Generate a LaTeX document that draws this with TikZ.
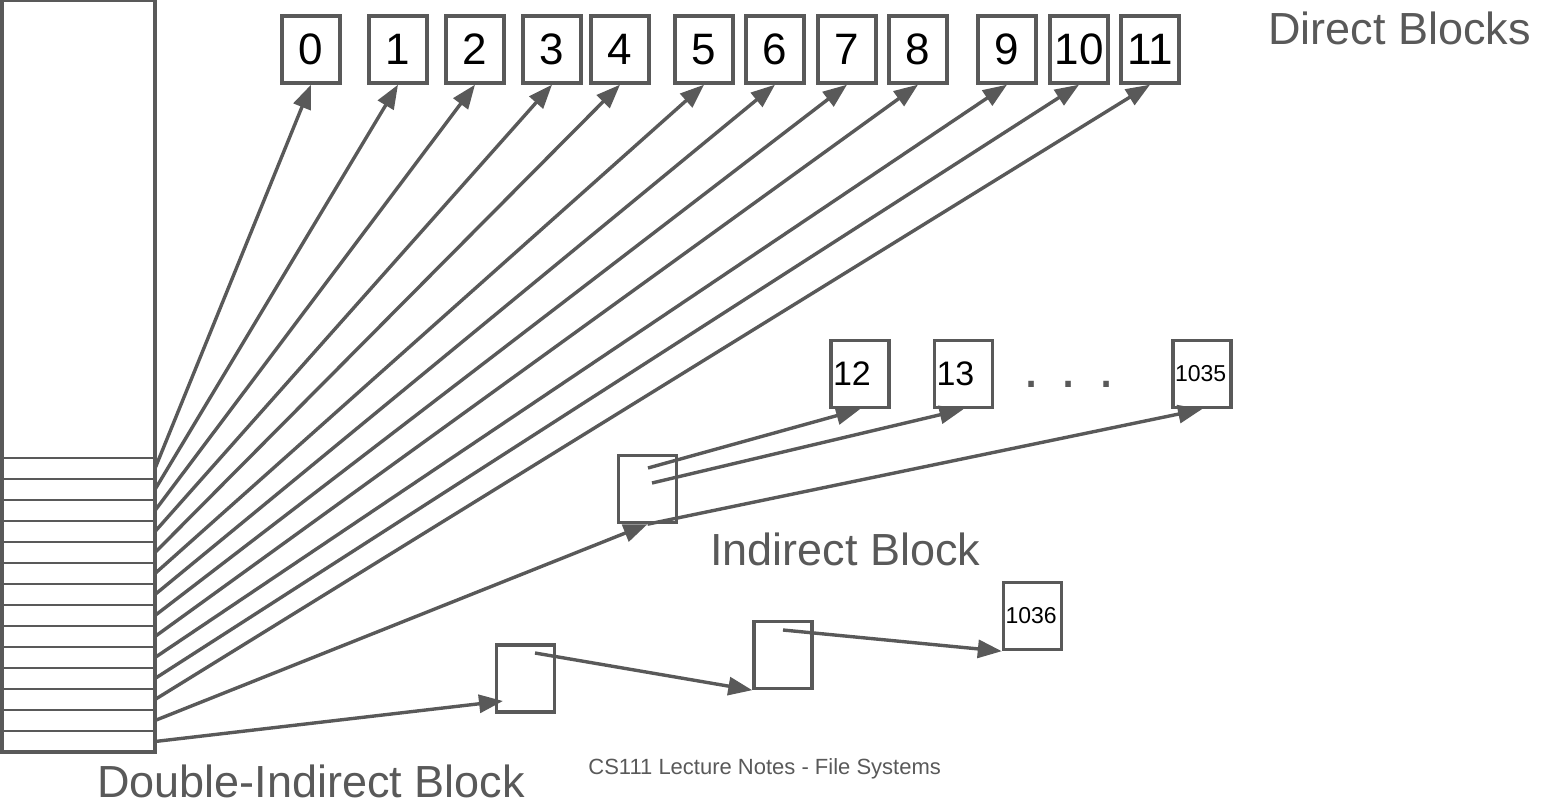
\documentclass[tikz,border=0pt]{standalone}
\usepackage{fontspec}
\setmainfont{Liberation Sans}
\usetikzlibrary{arrows.meta}
\definecolor{linegray}{HTML}{595959}

\begin{document}
\begin{tikzpicture}[x=0.5pt, y=-0.5pt, >={Triangle[length=12pt,width=9pt]},
    blk/.style={draw=linegray, line width=1.7pt, minimum width=29pt, minimum height=33.5pt,
      inner sep=0pt, font=\fontsize{22}{26}\selectfont},
    iblk/.style={blk, text width=27pt, align=left, inner xsep=1pt, font=\fontsize{17}{20}\selectfont},
    smallnum/.style={font=\fontsize{11.5}{14}\selectfont},
    conn/.style={->, draw=linegray, line width=1.7pt},
    lbl/.style={text=linegray, inner sep=0pt, font=\fontsize{22.5}{27}\selectfont}]
    \useasboundingbox (0,0) rectangle (1550,807);

    % inode table
    \draw[linegray, line width=1.7pt] (2,0) rectangle (155,752);
    \foreach \y in {458,479,...,731}
      \draw[linegray, line width=1pt] (2,\y) -- (155,\y);
    \foreach \i in {1,...,14}
      \coordinate (s\i) at (155,{447.5+21*\i});

    % direct blocks
    \foreach \i/\x in {0/311,1/398,2/475,3/552,4/620,5/704,6/775,7/847,8/918,9/1007,10/1079,11/1150}
      \node[blk] (d\i) at (\x,49.5) {\i};
    \foreach \i [count=\k] in {0,...,11}
      \draw[conn] (s\k) -- (d\i.south);
    \node[lbl, anchor=base west] (direct) at (1268,45) {Direct Blocks};

    % indirect block
    \node[blk] (ind) at (647.5,489) {};
    \node[iblk] (b12) at (860,374) {12};
    \node[iblk] (b13) at (963.5,374) {13};
    \node[lbl, anchor=base, font=\fontsize{29}{34}\selectfont] (dots) at (1069,387) {. . .};
    \node[iblk, smallnum] (b1035) at (1202,374) {1035};
    \coordinate (ind-a) at (648,468);
    \coordinate (ind-b) at (652,483);
    \draw[conn] (s13) -- (ind.south);
    \draw[conn] (ind-a) -- (b12.south);
    \draw[conn] (ind-b) -- (b13.south);
    \draw[conn] (ind.south) -- (b1035.south);
    \node[lbl, anchor=base west] (indlbl) at (710,565) {Indirect Block};

    % double-indirect block
    \node[blk] (dbl) at (525.5,678.5) {};
    \node[blk] (snd) at (783,655) {};
    \node[iblk, smallnum] (b1036) at (1032.5,616) {1036};
    \coordinate (dbl-in) at (503,701);
    \coordinate (dbl-out) at (535,653);
    \coordinate (snd-out) at (783,630);
    \draw[conn] (s14) -- (dbl-in);
    \draw[conn] (dbl-out) -- (snd.south west);
    \draw[conn] (snd-out) -- (b1036.south west);
    \node[lbl, anchor=base west] (dbllbl) at (97,797) {Double-Indirect Block};

    \node[lbl, anchor=base west, font=\fontsize{11}{13}\selectfont] (footer) at (588,774) {CS111 Lecture Notes - File Systems};
\end{tikzpicture}
\end{document}
